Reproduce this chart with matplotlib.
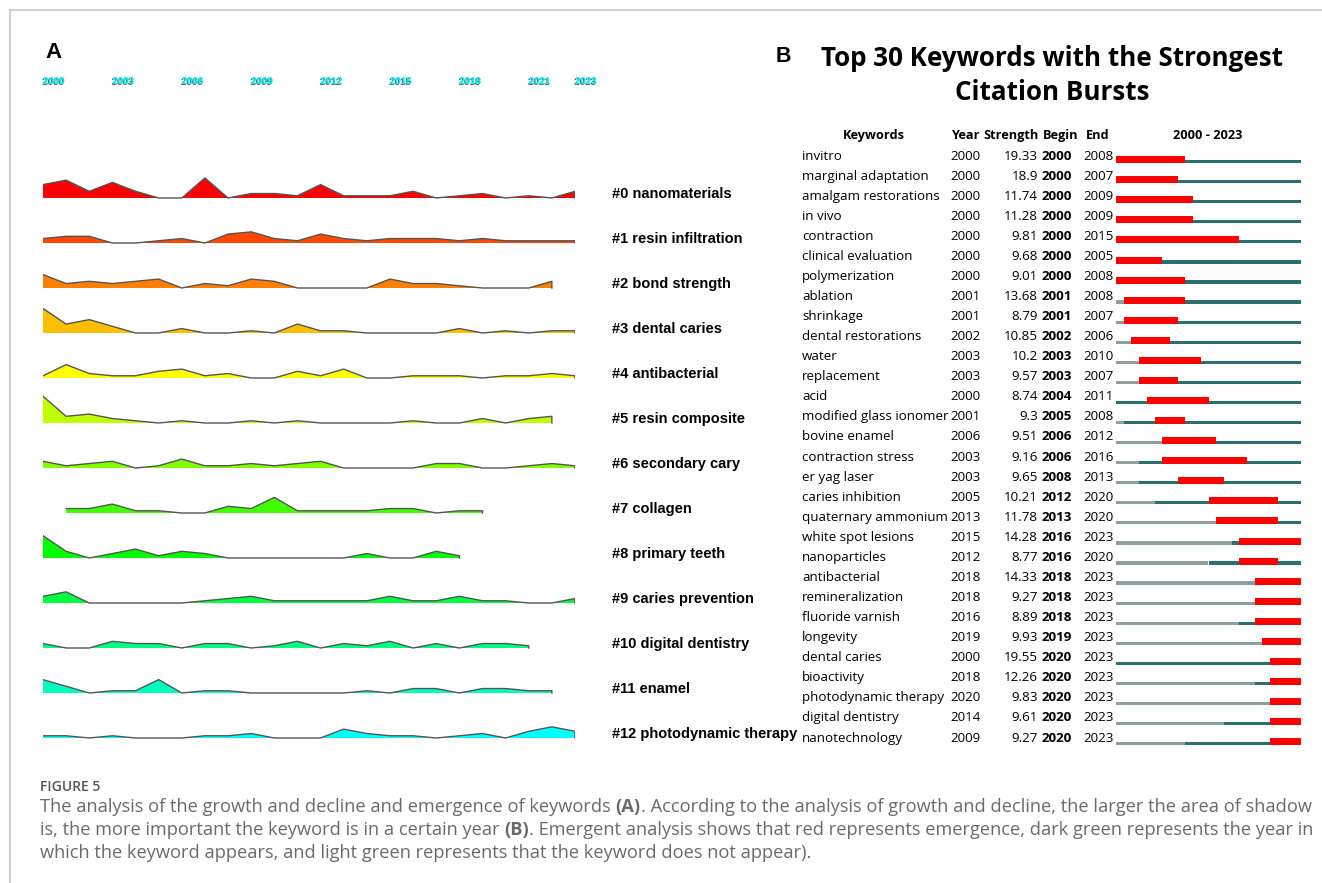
import matplotlib.pyplot as plt
import matplotlib.patheffects as pe
from matplotlib.lines import Line2D

W, H = 1322, 883

# ---- panel A: keyword counts per cluster and year ----
cluster_labels = ['#0 nanomaterials', '#1 resin infiltration', '#2 bond strength',
                  '#3 dental caries', '#4 antibacterial', '#5 resin composite',
                  '#6 secondary cary', '#7 collagen', '#8 primary teeth',
                  '#9 caries prevention', '#10 digital dentistry', '#11 enamel',
                  '#12 photodynamic therapy']
cluster_colors = ['#ff0000', '#ff4800', '#ff8000', '#ffbf00', '#ffff00', '#bfff00',
                  '#80ff00', '#40ff00', '#00ff00', '#00ff40', '#00ff80', '#00ffbf',
                  '#00ffff']
cluster_first_year = [2000, 2000, 2000, 2000, 2000, 2000, 2000, 2001, 2000, 2000, 2000, 2000, 2000]

nanomaterials = [6, 8, 3, 7, 3, 0, 0, 9, 0, 2, 2, 1, 6, 1, 1, 1, 3, 0, 1, 2, 0, 1, 0, 3]
resin_infiltration = [2, 3, 3, 0, 0, 1, 2, 0, 4, 5, 2, 1, 4, 2, 1, 2, 2, 2, 1, 2, 1, 1, 1, 1]
bond_strength = [6, 2, 3, 2, 3, 4, 0, 2, 1, 4, 3, 0, 0, 0, 0, 4, 2, 2, 1, 0, 0, 0, 3]
dental_caries = [11, 4, 6, 3, 0, 0, 2, 0, 0, 1, 0, 4, 1, 1, 0, 0, 0, 0, 2, 0, 1, 0, 1, 1]
antibacterial = [1, 6, 2, 1, 1, 3, 4, 1, 2, 0, 0, 3, 1, 4, 0, 0, 1, 1, 1, 0, 1, 1, 2, 1]
resin_composite = [12, 3, 4, 2, 1, 0, 1, 0, 0, 1, 0, 1, 0, 0, 0, 0, 1, 0, 0, 2, 0, 2, 3]
secondary_cary = [3, 1, 2, 3, 0, 1, 4, 1, 1, 2, 1, 2, 3, 0, 0, 0, 0, 2, 2, 0, 0, 1, 2, 1]
collagen = [2, 2, 4, 1, 1, 0, 0, 3, 2, 7, 1, 1, 1, 1, 2, 2, 0, 1, 1]
primary_teeth = [10, 3, 0, 2, 4, 1, 3, 2, 0, 0, 0, 0, 0, 0, 2, 0, 0, 3, 1]
caries_prevention = [3, 5, 0, 0, 0, 0, 0, 1, 2, 3, 1, 1, 1, 1, 1, 3, 1, 1, 3, 1, 1, 0, 0, 2]
digital_dentistry = [2, 0, 0, 3, 2, 2, 0, 2, 2, 0, 1, 3, 0, 2, 1, 3, 0, 2, 0, 2, 2, 1]
enamel = [6, 3, 0, 1, 1, 6, 0, 1, 1, 0, 0, 0, 0, 0, 1, 0, 2, 2, 0, 2, 2, 1, 1]
photodynamic_therapy = [1, 1, 0, 1, 0, 0, 0, 1, 1, 2, 0, 0, 0, 4, 2, 1, 1, 0, 1, 2, 0, 3, 5, 3]

cluster_counts = [nanomaterials, resin_infiltration, bond_strength, dental_caries,
                  antibacterial, resin_composite, secondary_cary, collagen,
                  primary_teeth, caries_prevention, digital_dentistry, enamel,
                  photodynamic_therapy]
tick_years = [2000, 2003, 2006, 2009, 2012, 2015, 2018, 2021, 2023]

# ---- panel B: citation bursts ----
keywords = ['invitro', 'marginal adaptation', 'amalgam restorations', 'in vivo',
            'contraction', 'clinical evaluation', 'polymerization', 'ablation',
            'shrinkage', 'dental restorations', 'water', 'replacement', 'acid',
            'modified glass ionomer', 'bovine enamel', 'contraction stress',
            'er yag laser', 'caries inhibition', 'quaternary ammonium',
            'white spot lesions', 'nanoparticles', 'antibacterial',
            'remineralization', 'fluoride varnish', 'longevity', 'dental caries',
            'bioactivity', 'photodynamic therapy', 'digital dentistry',
            'nanotechnology']
kw_year = [2000, 2000, 2000, 2000, 2000, 2000, 2000, 2001, 2001, 2002, 2003, 2003,
           2000, 2001, 2006, 2003, 2003, 2005, 2013, 2015, 2012, 2018, 2018, 2016,
           2019, 2000, 2018, 2020, 2014, 2009]
strength = ['19.33', '18.9', '11.74', '11.28', '9.81', '9.68', '9.01', '13.68', '8.79',
            '10.85', '10.2', '9.57', '8.74', '9.3', '9.51', '9.16', '9.65', '10.21',
            '11.78', '14.28', '8.77', '14.33', '9.27', '8.89', '9.93', '19.55',
            '12.26', '9.83', '9.61', '9.27']
burst_begin = [2000, 2000, 2000, 2000, 2000, 2000, 2000, 2001, 2001, 2002, 2003, 2003,
               2004, 2005, 2006, 2006, 2008, 2012, 2013, 2016, 2016, 2018, 2018, 2018,
               2019, 2020, 2020, 2020, 2020, 2020]
burst_end = [2008, 2007, 2009, 2009, 2015, 2005, 2008, 2008, 2007, 2006, 2010, 2007,
             2011, 2008, 2012, 2016, 2013, 2020, 2020, 2023, 2020, 2023, 2023, 2023,
             2023, 2023, 2023, 2023, 2023, 2023]
span_start, span_end = 2000, 2023

fig = plt.figure(figsize=(W / 100, H / 100), dpi=100)

# thin frame around the figure
fig.add_artist(Line2D([10 / W, 1], [1 - 10 / H, 1 - 10 / H], color='#c8c8c8', lw=1.2))
fig.add_artist(Line2D([10 / W, 10 / W], [0, 1 - 10 / H], color='#c8c8c8', lw=1.2))

# ---------------- panel A ----------------
px_count = 2.23          # vertical pixels per keyword
row_px = 45
ax_a = fig.add_axes([43 / W, 1 - 760 / H, 532 / W, 660 / H])
ax_a.set_xlim(2000, 2023)
ytop = (198 - 100) / px_count
ax_a.set_ylim(ytop - 660 / px_count, ytop)
ax_a.axis('off')
row_step = row_px / px_count

for i, (lab, y0, counts, col) in enumerate(zip(cluster_labels, cluster_first_year,
                                                cluster_counts, cluster_colors)):
    yrs = list(range(y0, y0 + len(counts)))
    base = -i * row_step
    tops = [base + c for c in counts]
    ax_a.fill_between(yrs, base, tops, facecolor=col, lw=0)
    ax_a.plot(yrs + [yrs[-1]], tops + [base], color='#555555', lw=1.0)
    ax_a.text(2024.6, base + 4 / px_count, lab, ha='left', va='center',
              fontsize=10.5, fontweight='bold', family='Liberation Sans',
              clip_on=False)

for yr in tick_years:
    ax_a.text(yr, 1 + 19 / 660, str(yr), transform=ax_a.get_xaxis_transform(),
              ha='left', va='center', fontsize=7, fontweight='bold',
              family='Liberation Sans', color='#19e6e6',
              path_effects=[pe.withSimplePatchShadow(offset=(-0.6, -0.6),
                                                     shadow_rgbFace='#1d4f66',
                                                     alpha=0.9),
                            pe.Normal()])

fig.text(45 / W, 1 - 52 / H, 'A', ha='left', va='center', fontsize=16,
         fontweight='bold', family='Liberation Sans')

# ---------------- panel B ----------------
row_h = 20.07
ax_b = fig.add_axes([790 / W, 1 - 750 / H, 520 / W, 630 / H])
yr_px = 185 / 24
ax_b.set_xlim(2000 - (1116 - 790) / yr_px, 2000 + (1310 - 1116) / yr_px)
ax_b.set_ylim((750 - 156) / row_h, (120 - 156) / row_h)
ax_b.axis('off')


def fx(px):
    return (px - 790) / 520


tr = ax_b.get_yaxis_transform()
bfont = 'Open Sans'
fs = 9.6
hfs = 9.2
hdr_y = -1.0
ax_b.text(fx(874), hdr_y, 'Keywords', transform=tr, ha='center', va='center',
          fontsize=hfs, fontweight='bold', family=bfont)
ax_b.text(fx(951), hdr_y, 'Year', transform=tr, ha='left', va='center',
          fontsize=hfs, fontweight='bold', family=bfont)
ax_b.text(fx(1039), hdr_y, 'Strength', transform=tr, ha='right', va='center',
          fontsize=hfs, fontweight='bold', family=bfont)
ax_b.text(fx(1043), hdr_y, 'Begin', transform=tr, ha='left', va='center',
          fontsize=hfs, fontweight='bold', family=bfont)
ax_b.text(fx(1086), hdr_y, 'End', transform=tr, ha='left', va='center',
          fontsize=hfs, fontweight='bold', family=bfont)
ax_b.text(fx(1208), hdr_y, f'{span_start} - {span_end}', transform=tr, ha='center',
          va='center', fontsize=hfs, fontweight='bold', family=bfont)

red_h = 7 / row_h
thin_h = 3.2 / row_h
red_c = 3.7 / row_h
thin_c = 5.6 / row_h
for i, kw in enumerate(keywords):
    ax_b.text(fx(802), i, kw, transform=tr, ha='left', va='center', fontsize=fs,
              family=bfont)
    ax_b.text(fx(950), i, str(kw_year[i]), transform=tr, ha='left', va='center',
              fontsize=fs, family=bfont)
    ax_b.text(fx(1038), i, strength[i], transform=tr, ha='right', va='center',
              fontsize=fs, family=bfont)
    ax_b.text(fx(1042), i, str(burst_begin[i]), transform=tr, ha='left',
              va='center', fontsize=fs, fontweight='bold', family=bfont)
    ax_b.text(fx(1083), i, str(burst_end[i]), transform=tr, ha='left', va='center',
              fontsize=fs, family=bfont)
    # grey: before first appearance, teal: present, red: burst
    ax_b.barh(i + thin_c, kw_year[i] - span_start, left=span_start, height=thin_h,
              color='#8c9e9e', lw=0)
    ax_b.barh(i + thin_c, span_end + 1 - kw_year[i], left=kw_year[i], height=thin_h,
              color='#2b7070', lw=0)
    ax_b.barh(i + red_c, burst_end[i] + 1 - burst_begin[i], left=burst_begin[i],
              height=red_h, color='#ff0000', lw=0)

fig.text(776 / W, 1 - 56 / H, 'B', ha='left', va='center', fontsize=15.5,
         fontweight='bold', family='Liberation Sans')
fig.text(1052 / W, 1 - 58 / H, 'Top 30 Keywords with the Strongest', ha='center',
         va='center', fontsize=18.7, fontweight='bold', family=bfont)
fig.text(1052 / W, 1 - 93 / H, 'Citation Bursts', ha='center', va='center',
         fontsize=18.7, fontweight='bold', family=bfont)

# ---------------- caption ----------------
cap_font = 'Open Sans'
cap_col = '#6a6a6a'
fig.text(40 / W, 1 - 787 / H, 'FIGURE 5', ha='left', va='center', fontsize=10,
         fontweight='semibold', family=cap_font, color='#555555')

cap_lines = [
    [('The analysis of the growth and decline and emergence of keywords ', 'normal'),
     ('(A)', 'bold'),
     ('. According to the analysis of growth and decline, the larger the area of shadow', 'normal')],
    [('is, the more important the keyword is in a certain year ', 'normal'),
     ('(B)', 'bold'),
     ('. Emergent analysis shows that red represents emergence, dark green represents the year in', 'normal')],
    [('which the keyword appears, and light green represents that the keyword does not appear).', 'normal')],
]
cap_y = [807, 830, 853]
renderer = fig.canvas.get_renderer()


def draw_line(runs, ypx, size):
    xpx = 40
    for txt, wt in runs:
        t = fig.text(xpx / W, 1 - ypx / H, txt, ha='left', va='center', fontsize=size,
                     fontweight=wt, family=cap_font, color=cap_col)
        xpx += t.get_window_extent(renderer).width
    return xpx - 40


# size the caption so the first line runs to the right margin
probe = [t for t in fig.texts]
w0 = draw_line(cap_lines[0], cap_y[0], 12)
for t in fig.texts[len(probe):]:
    t.remove()
cap_size = 12 * 1268 / w0
for runs, ypx in zip(cap_lines, cap_y):
    draw_line(runs, ypx, cap_size)

fig.savefig('out.png', dpi=100)
